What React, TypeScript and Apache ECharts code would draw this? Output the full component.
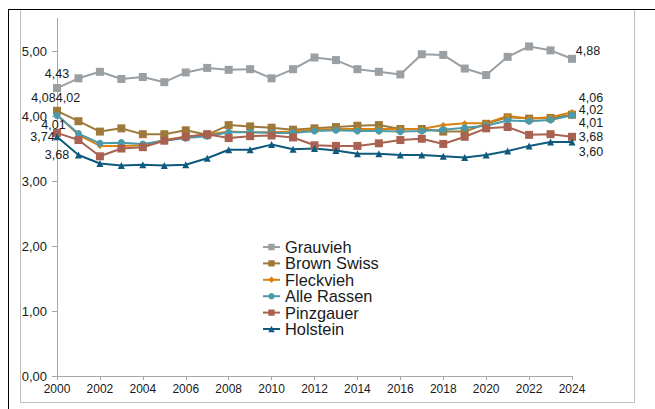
import React, { useEffect, useRef } from "react";
import * as echarts from "echarts";

const years = [
  "2000", "2001", "2002", "2003", "2004", "2005", "2006", "2007", "2008", "2009",
  "2010", "2011", "2012", "2013", "2014", "2015", "2016", "2017", "2018", "2019",
  "2020", "2021", "2022", "2023", "2024",
];

const grauvieh = [4.43, 4.58, 4.68, 4.57, 4.6, 4.52, 4.67, 4.74, 4.71, 4.72, 4.58, 4.72, 4.9, 4.86, 4.72, 4.68, 4.64, 4.95, 4.94, 4.73, 4.63, 4.91, 5.07, 5.01, 4.88];
const brownSwiss = [4.08, 3.92, 3.76, 3.81, 3.72, 3.72, 3.78, 3.71, 3.86, 3.84, 3.82, 3.79, 3.81, 3.83, 3.85, 3.86, 3.8, 3.8, 3.76, 3.76, 3.88, 3.98, 3.96, 3.97, 4.02];
const fleckvieh = [4.02, 3.71, 3.54, 3.54, 3.55, 3.63, 3.68, 3.71, 3.76, 3.75, 3.75, 3.76, 3.79, 3.8, 3.8, 3.8, 3.8, 3.8, 3.86, 3.89, 3.89, 4.0, 3.96, 3.98, 4.06];
const alleRassen = [4.01, 3.73, 3.58, 3.59, 3.57, 3.62, 3.66, 3.69, 3.75, 3.75, 3.74, 3.74, 3.77, 3.78, 3.77, 3.77, 3.76, 3.77, 3.79, 3.82, 3.85, 3.93, 3.92, 3.94, 4.01];
const pinzgauer = [3.74, 3.63, 3.38, 3.5, 3.52, 3.62, 3.68, 3.72, 3.66, 3.69, 3.7, 3.67, 3.55, 3.54, 3.54, 3.58, 3.63, 3.65, 3.57, 3.68, 3.81, 3.83, 3.71, 3.72, 3.68];
const holstein = [3.68, 3.4, 3.27, 3.24, 3.25, 3.24, 3.25, 3.35, 3.48, 3.48, 3.56, 3.49, 3.5, 3.47, 3.42, 3.42, 3.4, 3.4, 3.38, 3.36, 3.4, 3.46, 3.54, 3.6, 3.6];

const yTicks = [0, 1, 2, 3, 4, 5];

const fmt = (v: number) => v.toFixed(2).replace(".", ",");

type SeriesDef = {
  name: string;
  data: number[];
  color: string;
  symbol: string;
  size: number;
  startOff: [number, number];
  endOff: [number, number];
};

const defs: SeriesDef[] = [
  { name: "Grauvieh", data: grauvieh, color: "#9a9fa3", symbol: "rect", size: 8, startOff: [0, -14], endOff: [16, -8] },
  { name: "Brown Swiss", data: brownSwiss, color: "#9e7a3a", symbol: "rect", size: 8, startOff: [-13.5, -13], endOff: [19, -4.5] },
  { name: "Fleckvieh", data: fleckvieh, color: "#d9820f", symbol: "diamond", size: 6, startOff: [11, -16.5], endOff: [19, -14.5] },
  { name: "Alle Rassen", data: alleRassen, color: "#4b9aab", symbol: "circle", size: 7, startOff: [-3.5, 9.5], endOff: [19, 8] },
  { name: "Pinzgauer", data: pinzgauer, color: "#a8624f", symbol: "rect", size: 8, startOff: [-14.5, 4], endOff: [19, 0.5] },
  { name: "Holstein", data: holstein, color: "#0e5a7e", symbol: "triangle", size: 7, startOff: [0, 18], endOff: [19, 10] },
];

export default function App() {
  const ref = useRef<HTMLDivElement>(null);

  useEffect(() => {
    if (!ref.current) return;
    const chart = echarts.init(ref.current, undefined, { renderer: "svg" });

    const labelStyle = (off: [number, number]) => ({
      show: true,
      position: "inside",
      offset: off,
      color: "#1a1a1a",
      fontSize: 12.5,
      fontFamily: "Liberation Sans, Arial, sans-serif",
      align: "center",
      verticalAlign: "middle",
      formatter: (p: any) => fmt(p.value),
    });

    const series = defs.map((d) => ({
      name: d.name,
      type: "line",
      data: d.data.map((v, i) => {
        if (i === 0) return { value: v, label: labelStyle(d.startOff) };
        if (i === d.data.length - 1) return { value: v, label: labelStyle(d.endOff) };
        return v;
      }),
      symbol: d.symbol,
      symbolSize: d.size,
      showAllSymbol: true,
      lineStyle: { color: d.color, width: 2 },
      itemStyle: { color: d.color },
      label: { show: false },
      emphasis: { disabled: true },
    }));

    chart.setOption({
      animation: false,
      textStyle: { fontFamily: "Liberation Sans, Arial, sans-serif" },
      grid: { left: 57, right: 83, top: 18.5, bottom: 33, containLabel: false },
      legend: {
        orient: "vertical",
        left: 262,
        top: 238.8,
        padding: 0,
        itemWidth: 17,
        itemHeight: 8,
        itemGap: 0,
        textStyle: { fontSize: 16.4, lineHeight: 16.4, color: "#1a1a1a", fontFamily: "Liberation Sans, Arial, sans-serif" },
        data: defs.map((d) => d.name),
      },
      xAxis: {
        type: "category",
        data: years,
        boundaryGap: false,
        axisLine: { lineStyle: { color: "#a6a6a6", width: 1 } },
        axisTick: { show: true, interval: 1, length: 4, lineStyle: { color: "#a6a6a6" } },
        axisLabel: { interval: 1, color: "#1a1a1a", fontSize: 12, margin: 7 },
        splitLine: { show: false },
      },
      yAxis: {
        type: "value",
        min: 0,
        max: 5.5,
        interval: 1,
        axisLine: { show: true, lineStyle: { color: "#a6a6a6", width: 1 } },
        axisTick: { show: true, length: 5, lineStyle: { color: "#a6a6a6" }, customValues: yTicks },
        axisLabel: { color: "#1a1a1a", fontSize: 13, margin: 10, customValues: yTicks, formatter: (v: number) => fmt(v) },
        splitLine: { show: false },
      },
      graphic: [
        {
          type: "rect",
          shape: { x: 20.5, y: 9.5, width: 614, height: 393 },
          style: { fill: "none", stroke: "#bfbfbf", lineWidth: 1 },
          silent: true,
        },
        {
          type: "line",
          shape: { x1: 8, y1: 9.5, x2: 655, y2: 9.5 },
          style: { stroke: "#000", lineWidth: 1 },
          silent: true,
        },
        {
          type: "line",
          shape: { x1: 8.5, y1: 9, x2: 8.5, y2: 409 },
          style: { stroke: "#000", lineWidth: 1 },
          silent: true,
        },
      ],
      series,
    });

    return () => chart.dispose();
  }, []);

  return (
    <div
      ref={ref}
      style={{ position: "fixed", left: 0, top: 0, width: 655, height: 409, background: "#fff" }}
    />
  );
}
